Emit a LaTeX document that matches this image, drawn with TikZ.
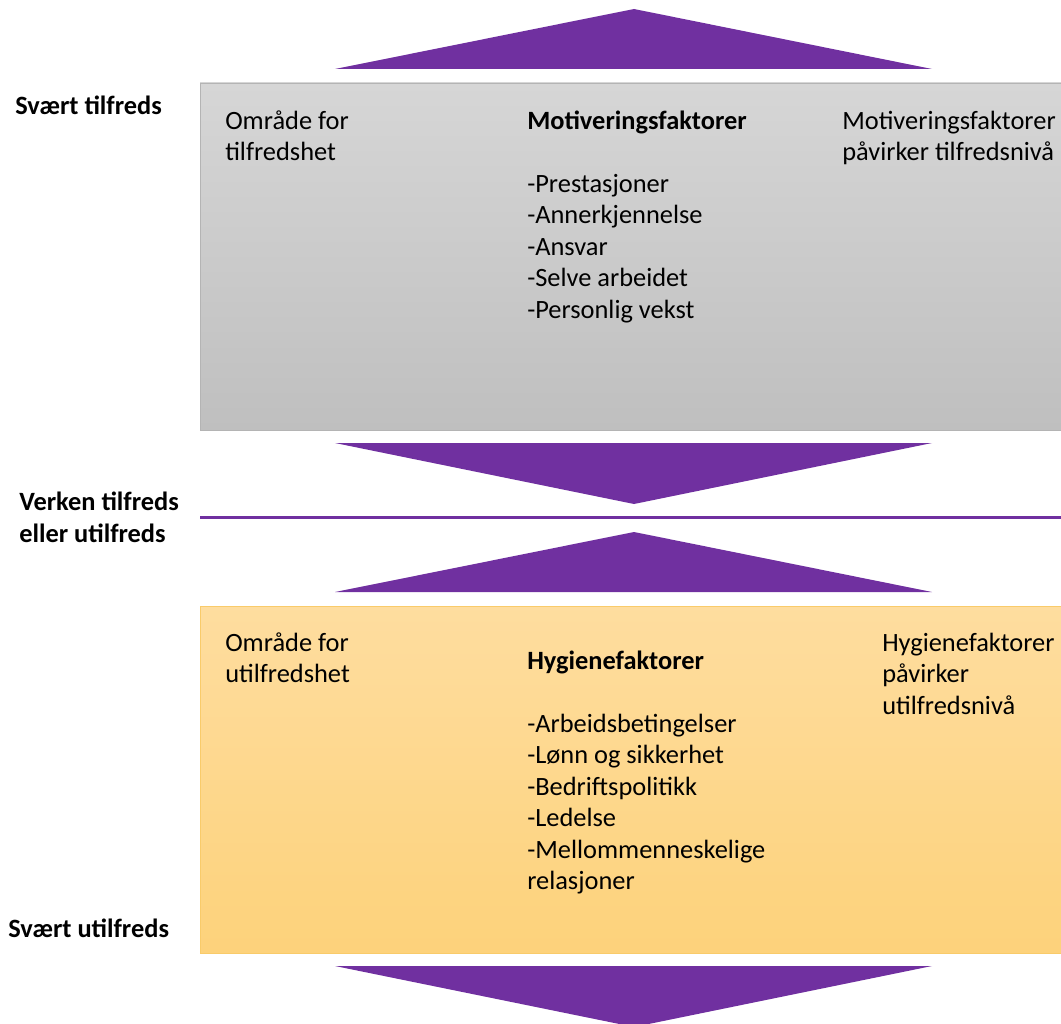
\documentclass[tikz,border=0pt]{standalone}
\usepackage{fontspec}
\setmainfont{Carlito}

\definecolor{herzpurple}{HTML}{7030A0}
\definecolor{graytop}{HTML}{D6D6D6}
\definecolor{graybot}{HTML}{BFBFBF}
\definecolor{grayedge}{HTML}{B4B4B4}
\definecolor{goldtop}{HTML}{FEDD9F}
\definecolor{goldbot}{HTML}{FDD27B}
\definecolor{goldedge}{HTML}{F9CB6A}

\begin{document}
\begin{tikzpicture}[x=0.75pt,y=-0.75pt,
  txt/.style={font=\fontsize{19.8pt}{23.6pt}\selectfont, inner sep=0pt, anchor=base west},
  hdr/.style={txt, font=\fontsize{19.8pt}{23.6pt}\selectfont\bfseries}]

% Picture is measured in pixels of the original (y runs downwards)
\useasboundingbox (0,0) rectangle (1061,1024);
\clip (0,0) rectangle (1061,1024);

% Figure parameters
\def \bl{ 200 } % left edge of the two boxes
\def \br{1061 } % right edge of the two boxes
\def \tl{ 335 } % left corner of the triangles
\def \tr{ 932 } % right corner of the triangles
\def \tm{ 634 } % tip of the triangles
\def \ls{31.5 } % line spacing of the lists

% The two boxes (satisfaction above, dissatisfaction below)
\filldraw[draw=grayedge, top color=graytop, bottom color=graybot]
  (\bl,83) rectangle (\br,430);
\filldraw[draw=goldedge, top color=goldtop, bottom color=goldbot]
  (\bl,606) rectangle (\br,953);

% The neutral line between them
\draw[herzpurple, line width=2.25pt] (\bl,517) -- (\br,517);

% Corners of the four triangles
\coordinate (T1l) at (\tl,69);  \coordinate (T1t) at (\tm,9);    \coordinate (T1r) at (\tr,69);
\coordinate (T2l) at (\tl,443); \coordinate (T2t) at (\tm,504);  \coordinate (T2r) at (\tr,443);
\coordinate (T3l) at (\tl,592); \coordinate (T3t) at (\tm,532);  \coordinate (T3r) at (\tr,592);
\coordinate (T4l) at (\tl,966); \coordinate (T4t) at (\tm,1027); \coordinate (T4r) at (\tr,966);

% Painting the triangles
\fill[herzpurple] (T1l) -- (T1t) -- (T1r) -- cycle;
\fill[herzpurple] (T2l) -- (T2t) -- (T2r) -- cycle;
\fill[herzpurple] (T3l) -- (T3t) -- (T3r) -- cycle;
\fill[herzpurple] (T4l) -- (T4t) -- (T4r) -- cycle;

% Scale on the left
\node[hdr] (svtilf)  at (15,114)  {Svært tilfreds};
\node[hdr] (verken1) at (19,510)  {Verken tilfreds};
\node[hdr] (verken2) at (19,542)  {eller utilfreds};
\node[hdr] (svutilf) at (8,937)   {Svært utilfreds};

% Upper box
\node[txt] (omr1a) at (225,129)        {Område for};
\node[txt] (omr1b) at (225,{129+\ls})  {tilfredshet};
\node[hdr] (motiv) at (527,129)        {Motiveringsfaktorer};
\foreach \fac [count=\i from 0] in {-Prestasjoner,-Annerkjennelse,-Ansvar,
                                    -Selve arbeidet,-Personlig vekst}
  \node[txt] (motiv\i) at (527,{192+\ls*\i}) {\fac};
\node[txt] (mpa1) at (842,129)        {Motiveringsfaktorer};
\node[txt] (mpa2) at (842,{129+\ls})  {påvirker tilfredsnivå};

% Lower box
\node[txt] (omr2a) at (225,651)        {Område for};
\node[txt] (omr2b) at (225,{651+\ls})  {utilfredshet};
\node[hdr] (hyg)   at (527,669)        {Hygienefaktorer};
\foreach \fac [count=\i from 0] in {-Arbeidsbetingelser,-Lønn og sikkerhet,
                                    -Bedriftspolitikk,-Ledelse,-Mellommenneskelige,relasjoner}
  \node[txt] (hyg\i) at (527,{732+\ls*\i}) {\fac};
\node[txt] (hpa1) at (882,651)           {Hygienefaktorer};
\node[txt] (hpa2) at (882,{651+\ls})     {påvirker};
\node[txt] (hpa3) at (882,{651+2*\ls})   {utilfredsnivå};
\end{tikzpicture}
\end{document}
